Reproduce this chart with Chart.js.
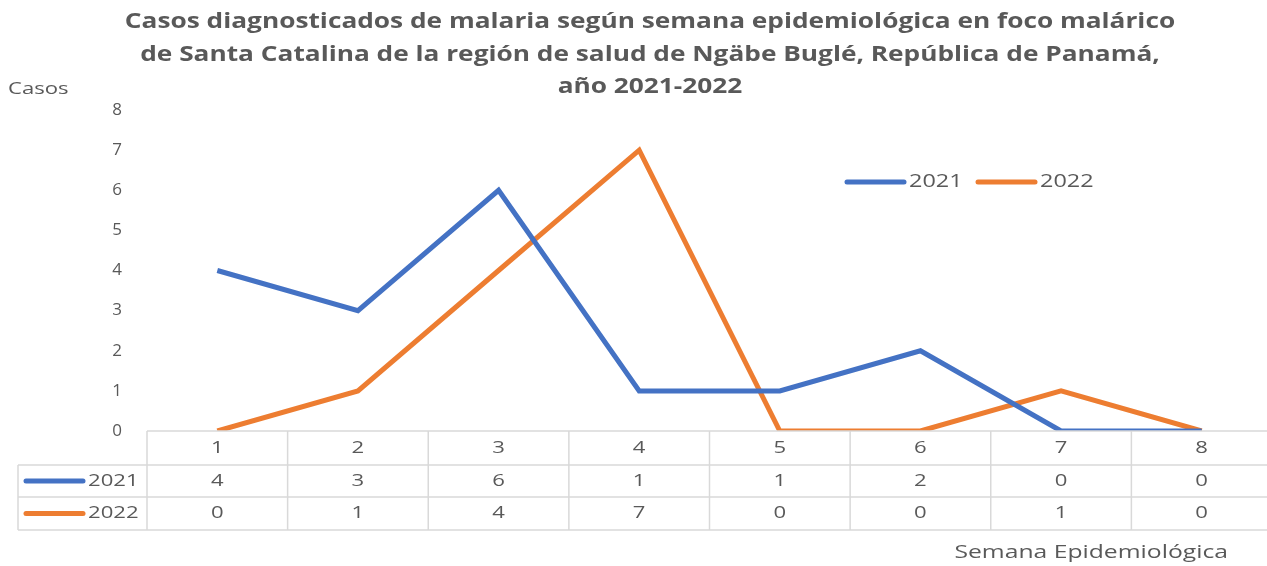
<!DOCTYPE html>
<html>
<head>
<meta charset="utf-8">
<script src="https://cdn.jsdelivr.net/npm/chart.js@4.4.1/dist/chart.umd.min.js"></script>
<style>
  html, body { margin: 0; padding: 0; overflow: hidden; background: #fff; }
</style>
</head>
<body>
<canvas id="malariaChart" width="1300" height="566"></canvas>
<script>
const semanas = ["1", "2", "3", "4", "5", "6", "7", "8"];
const casos2021 = [4, 3, 6, 1, 1, 2, 0, 0];
const casos2022 = [0, 1, 4, 7, 0, 0, 1, 0];
const series = ["2021", "2022"];
const colores = ["#4472C4", "#ED7D31"];
const titulo = [
  "Casos diagnosticados de malaria según semana epidemiológica en foco malárico",
  "de Santa Catalina de la región de salud de Ngäbe Buglé, República de Panamá,",
  "año 2021-2022",
];
const ejeY = "Casos";
const ejeX = "Semana Epidemiológica";

const gris = "#595959";
const fuente = "'Open Sans', sans-serif";

// el original está estirado a lo ancho, así que el texto se dibuja con escala horizontal
function estirado(ctx, texto, x, y, sx) {
  ctx.save();
  ctx.translate(x, y);
  ctx.scale(sx, 1);
  ctx.fillText(texto, 0, 0);
  ctx.restore();
}

// título, tabla de datos bajo el eje x, leyenda y títulos de ejes
const tablaPlugin = {
  id: "tabla",
  afterDraw(chart) {
    const { ctx, chartArea, scales } = chart;
    const x = scales.x;
    const paso = x.getPixelForValue(1) - x.getPixelForValue(0);
    const top = chartArea.bottom;
    const filas = [top, top + 34, top + 66, top + 99];
    const izq = 18;
    const der = chartArea.right;

    ctx.save();
    ctx.textBaseline = "middle";
    ctx.fillStyle = gris;

    // título
    ctx.font = "bold 21px " + fuente;
    ctx.textAlign = "center";
    const yTitulo = [22, 55, 87];
    titulo.forEach((t, i) => estirado(ctx, t, 650, yTitulo[i], 1.25));

    // rejilla de la tabla
    ctx.strokeStyle = "#d9d9d9";
    ctx.lineWidth = 1.5;
    ctx.beginPath();
    ctx.moveTo(chartArea.left, filas[0]);
    ctx.lineTo(der, filas[0]);
    for (let i = 1; i < filas.length; i++) {
      ctx.moveTo(izq, filas[i]);
      ctx.lineTo(der, filas[i]);
    }
    ctx.moveTo(izq, filas[1]);
    ctx.lineTo(izq, filas[3]);
    for (let i = 0; i <= semanas.length; i++) {
      const px = x.getPixelForValue(i) - paso / 2;
      ctx.moveTo(px, filas[0]);
      ctx.lineTo(px, filas[3]);
    }
    ctx.stroke();

    ctx.font = "17px " + fuente;
    const datos = chart.data.datasets;
    semanas.forEach((s, i) => {
      const px = x.getPixelForValue(i);
      estirado(ctx, s, px, (filas[0] + filas[1]) / 2, 1.3);
      datos.forEach((d, j) => {
        estirado(ctx, String(d.data[i]), px, (filas[j + 1] + filas[j + 2]) / 2, 1.3);
      });
    });

    // claves de la tabla
    ctx.lineCap = "round";
    ctx.lineWidth = 5;
    ctx.textAlign = "left";
    datos.forEach((d, j) => {
      const cy = (filas[j + 1] + filas[j + 2]) / 2;
      ctx.strokeStyle = d.borderColor;
      ctx.beginPath();
      ctx.moveTo(26, cy);
      ctx.lineTo(83, cy);
      ctx.stroke();
      estirado(ctx, d.label, 88, cy, 1.3);
    });

    // leyenda
    let lx = 847;
    const ly = 182;
    ctx.font = "18px " + fuente;
    datos.forEach((d) => {
      ctx.strokeStyle = d.borderColor;
      ctx.beginPath();
      ctx.moveTo(lx, ly);
      ctx.lineTo(lx + 57, ly);
      ctx.stroke();
      estirado(ctx, d.label, lx + 62, ly, 1.3);
      lx += 131;
    });

    // títulos de ejes
    ctx.font = "17px " + fuente;
    estirado(ctx, ejeY, 8, 89, 1.3);
    ctx.font = "19px " + fuente;
    ctx.textAlign = "right";
    estirado(ctx, ejeX, 1228, 553, 1.3);
    ctx.restore();
  },
};

const chart = new Chart(document.getElementById("malariaChart"), {
  type: "line",
  data: {
    labels: semanas,
    datasets: [
      { label: series[0], data: casos2021, borderColor: colores[0], borderWidth: 5, pointRadius: 0, tension: 0 },
      { label: series[1], data: casos2022, borderColor: colores[1], borderWidth: 5, pointRadius: 0, tension: 0 },
    ],
  },
  options: {
    responsive: false,
    animation: false,
    layout: { padding: { left: 0, right: 28, bottom: 135, top: 110 } },
    plugins: {
      legend: { display: false },
      tooltip: { enabled: false },
      title: { display: false },
    },
    scales: {
      x: { display: false, offset: true },
      y: {
        min: 0,
        max: 8,
        ticks: { stepSize: 1, color: gris, font: { family: fuente, size: 17 }, padding: 25 },
        grid: { display: false, drawTicks: false },
        border: { display: false },
        afterFit(scale) { scale.width = 147; },
      },
    },
  },
  plugins: [tablaPlugin],
});
</script>
</body>
</html>
